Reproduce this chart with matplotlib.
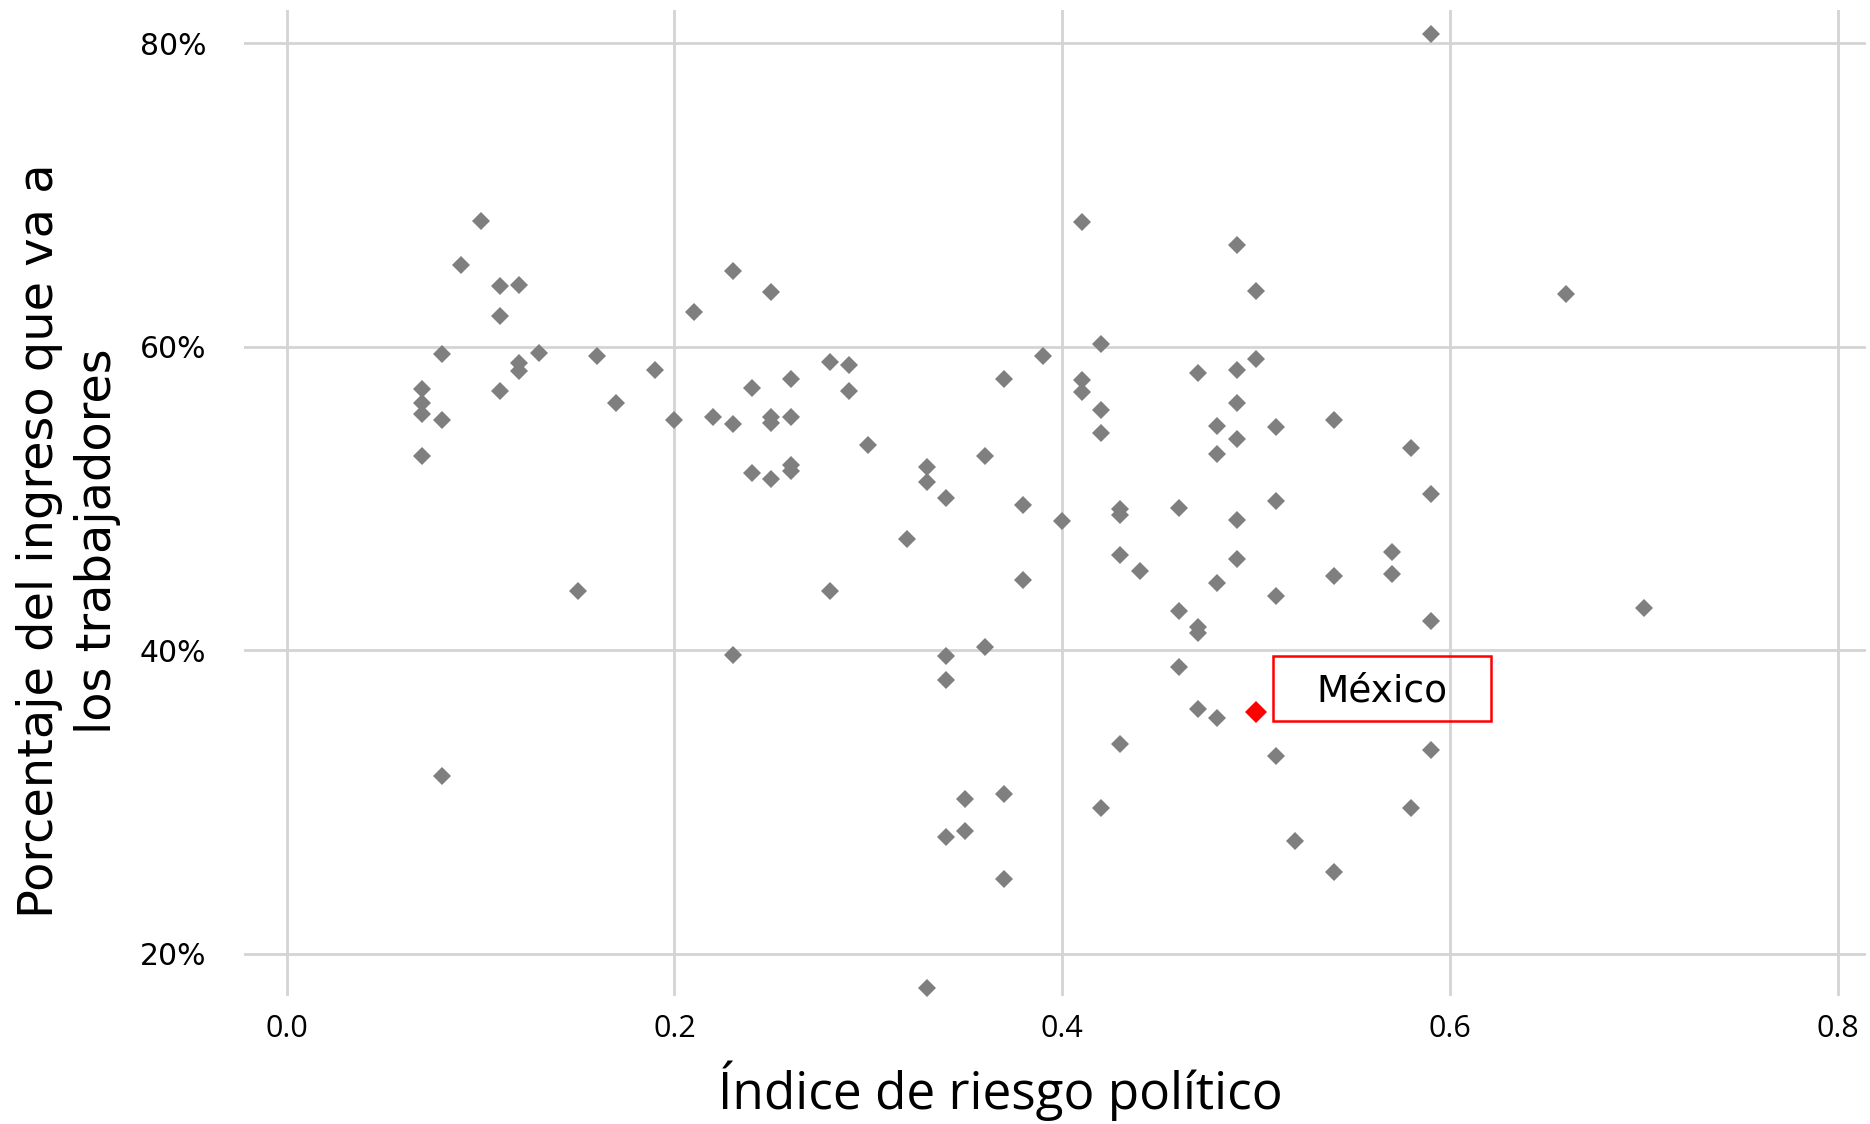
import matplotlib
matplotlib.use("Agg")
import matplotlib.pyplot as plt
from matplotlib.patches import Rectangle
from matplotlib.ticker import FuncFormatter

# riesgo politico (x) y % del ingreso para trabajadores (y)
riesgo = [0.07, 0.07, 0.07, 0.07,
          0.08, 0.08, 0.08,
          0.09, 0.10,
          0.11, 0.11, 0.11,
          0.12, 0.12, 0.12,
          0.13, 0.15, 0.16, 0.17, 0.19, 0.20, 0.21, 0.22,
          0.23, 0.23, 0.23,
          0.24, 0.24,
          0.25, 0.25, 0.25, 0.25,
          0.26, 0.26, 0.26, 0.26,
          0.28, 0.28,
          0.29, 0.29,
          0.30, 0.32,
          0.33, 0.33, 0.33,
          0.34, 0.34, 0.34, 0.34,
          0.35, 0.35,
          0.36, 0.36,
          0.37, 0.37, 0.37,
          0.38, 0.38,
          0.39, 0.40,
          0.41, 0.41, 0.41,
          0.42, 0.42, 0.42, 0.42,
          0.43, 0.43, 0.43, 0.43,
          0.44,
          0.46, 0.46, 0.46,
          0.47, 0.47, 0.47, 0.47,
          0.48, 0.48, 0.48, 0.48,
          0.49, 0.49, 0.49, 0.49, 0.49, 0.49,
          0.50, 0.50,
          0.51, 0.51, 0.51, 0.51,
          0.52,
          0.54, 0.54, 0.54,
          0.57, 0.57,
          0.58, 0.58,
          0.59, 0.59, 0.59, 0.59,
          0.66, 0.70]
ingreso = [57.2, 56.3, 55.6, 52.8,
           59.5, 55.2, 31.7,
           65.4, 68.3,
           64.0, 62.0, 57.1,
           64.1, 58.9, 58.4,
           59.6, 43.9, 59.4, 56.3, 58.5, 55.2, 62.3, 55.4,
           65.0, 54.9, 39.7,
           57.3, 51.7,
           63.6, 55.4, 55.0, 51.3,
           57.9, 55.4, 52.2, 51.8,
           59.0, 43.9,
           58.8, 57.1,
           53.5, 47.3,
           52.1, 51.1, 17.7,
           50.0, 39.6, 38.0, 27.7,
           30.2, 28.1,
           52.8, 40.2,
           57.9, 30.5, 24.9,
           49.6, 44.6,
           59.4, 48.5,
           68.2, 57.8, 57.0,
           60.2, 55.8, 54.3, 29.6,
           49.3, 48.9, 46.3, 33.8,
           45.2,
           49.4, 42.6, 38.9,
           58.3, 41.5, 41.1, 36.1,
           54.8, 52.9, 44.4, 35.5,
           66.7, 58.5, 56.3, 53.9, 48.6, 46.0,
           63.7, 59.2,
           54.7, 49.8, 43.6, 33.0,
           27.4,
           55.2, 44.9, 25.4,
           46.5, 45.0,
           53.3, 29.6,
           80.6, 50.3, 41.9, 33.4,
           63.5, 42.8]

mex_nombre = "México"
mex_x = 0.50
mex_y = 35.9

x_ticks = [0.0, 0.2, 0.4, 0.6, 0.8]
y_ticks = [20, 40, 60, 80]

gris = "#7f7f7f"
rojo = "#ff0000"
grid = "#d4d4d4"

fig = plt.figure(figsize=(18.7, 11.24), dpi=100)
ax = fig.add_axes([244/1870, 128/1124, 1622/1870, 986/1124])

ax.plot(riesgo, ingreso, linestyle="none", marker="D", markersize=8.8,
        markeredgewidth=0, color=gris, zorder=3)
ax.plot([mex_x], [mex_y], linestyle="none", marker="D", markersize=10.8,
        markeredgewidth=0, color=rojo, zorder=4)

# etiqueta de Mexico
ax.add_patch(Rectangle((mex_x + 0.0086, mex_y - 0.6), 0.1124, 4.33,
                       fill=False, edgecolor=rojo, linewidth=1.8, zorder=5))
ax.text(mex_x + 0.0648, mex_y + 0.72, mex_nombre, ha="center", va="baseline",
        fontsize=27, family="DejaVu Sans", color="black", zorder=6)

ax.set_xlim(-0.022, 0.8145)
ax.set_ylim(17.2, 82.2)
ax.set_xticks(x_ticks)
ax.set_yticks(y_ticks)
ax.xaxis.set_major_formatter(FuncFormatter(lambda v, p: f"{v:.1f}"))
ax.yaxis.set_major_formatter(FuncFormatter(lambda v, p: f"{v:.0f}%"))
ax.grid(True, color=grid, linewidth=2.0)
ax.set_axisbelow(True)
for s in ax.spines.values():
    s.set_visible(False)
ax.tick_params(axis="both", length=0)
ax.tick_params(axis="y", pad=27)
ax.tick_params(axis="x", pad=13)
for lab in ax.get_yticklabels():
    lab.set_fontsize(21.5)
    lab.set_family("DejaVu Sans")
for lab in ax.get_xticklabels():
    lab.set_fontsize(22)
    lab.set_family("Open Sans")

fig.text(1000/1870, 1 - 1091/1124, "Índice de riesgo político", ha="center",
         va="center", fontsize=37, family="Open Sans")
fig.text(40/1870, 1 - 541/1124, "Porcentaje del ingreso que va a", rotation=90,
         ha="center", va="center", fontsize=34.5, family="DejaVu Sans")
fig.text(98/1870, 1 - 541/1124, "los trabajadores", rotation=90,
         ha="center", va="center", fontsize=34.5, family="DejaVu Sans")

fig.savefig("out.png", dpi=100, facecolor="white")
